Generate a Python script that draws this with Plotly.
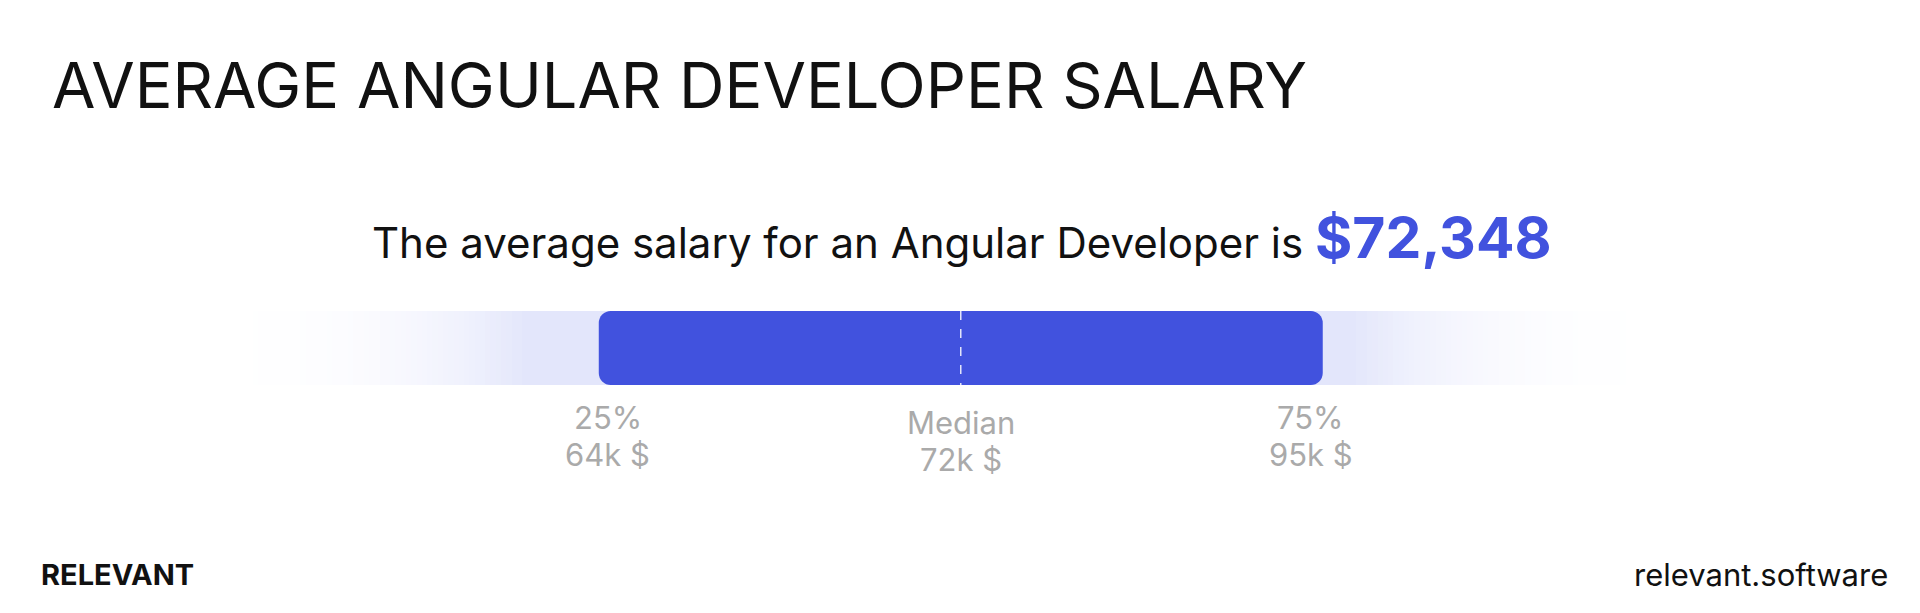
import plotly.graph_objects as go
import numpy as np

percentiles = [0.25, 0.5, 0.75]
pct_labels = ["25%", "Median", "75%"]
salary_labels = ["64k $", "72k $", "95k $"]
average_salary = "$72,348"

W, H = 1920, 613
x0 = -0.158
x1 = x0 + 1.326
def xp(v): return (v - x0) / (x1 - x0)

BY0, BY1 = 303, 377
BC = (BY0 + BY1) / 2
d = (BY1 - BY0) / 2

fig = go.Figure()
gx = np.linspace(-0.06, 1.03, 300)
row = np.clip(np.minimum(gx + 0.06, 1.03 - gx) / 0.26, 0, 1) ** 1.6
fig.add_trace(go.Heatmap(x=gx, y=[BY0 + d / 2, BY1 - d / 2], z=[row, row], zmin=0, zmax=1, showscale=False,
                         hoverinfo="skip", colorscale=[[0, "rgba(255,255,255,0)"], [1, "#e3e6fb"]]))
fig.add_trace(go.Bar(x=[percentiles[2] - percentiles[0]], base=[percentiles[0]], y=[BC], width=BY1 - BY0,
                     orientation="h", marker=dict(color="#4152de", cornerradius=12, line_width=0)))
fig.add_shape(type="line", x0=percentiles[1], x1=percentiles[1], y0=BY0, y1=BY1,
              line=dict(color="rgba(255,255,255,0.85)", width=1.5, dash="dash"))
shifts = [9, 0, -12]
for p, a, b, s in zip(percentiles, pct_labels, salary_labels, shifts):
    yy = 414 if a == "Median" else 409
    for t, yv in ((a, yy), (b, yy + 37)):
        fig.add_annotation(x=xp(p), y=1 - yv / H, xref="paper", yref="paper", xanchor="center", yanchor="middle",
                           xshift=s, text=t, showarrow=False, font=dict(size=31, color="#aaaaaa", family="Inter"))

fig.add_annotation(x=42 / W, y=1 - 77 / H, xref="paper", yref="paper", xanchor="left", yanchor="middle",
                   showarrow=False, text="AVERAGE ANGULAR DEVELOPER SALARY",
                   font=dict(size=63, color="#111", family="Inter"))
fig.add_annotation(x=0.5 - 6 / W, y=1 - 230 / H, xref="paper", yref="paper", xanchor="center", yanchor="middle",
                   showarrow=False,
                   text="The average salary for an Angular Developer is <b><span style='color:#4152de;font-size:57px'>"
                        + average_salary + "</span></b>", font=dict(size=42, color="#111", family="Inter"))
fig.add_annotation(x=31 / W, y=1 - 566 / H, xref="paper", yref="paper", xanchor="left", yanchor="middle",
                   showarrow=False, text="<b>RELEVANT</b>", font=dict(size=29, color="#111", family="Inter"))
fig.add_annotation(x=1882 / W, y=1 - 566 / H, xref="paper", yref="paper", xanchor="right", yanchor="middle",
                   showarrow=False, text="relevant.software", font=dict(size=31, color="#111", family="Inter"))

fig.update_layout(width=W, height=H, margin=dict(l=0, r=0, t=0, b=0), plot_bgcolor="white",
                  paper_bgcolor="white", showlegend=False,
                  xaxis=dict(range=[x0, x1], visible=False, fixedrange=True),
                  yaxis=dict(range=[H, 0], visible=False, fixedrange=True))
fig.write_html("out.html")
